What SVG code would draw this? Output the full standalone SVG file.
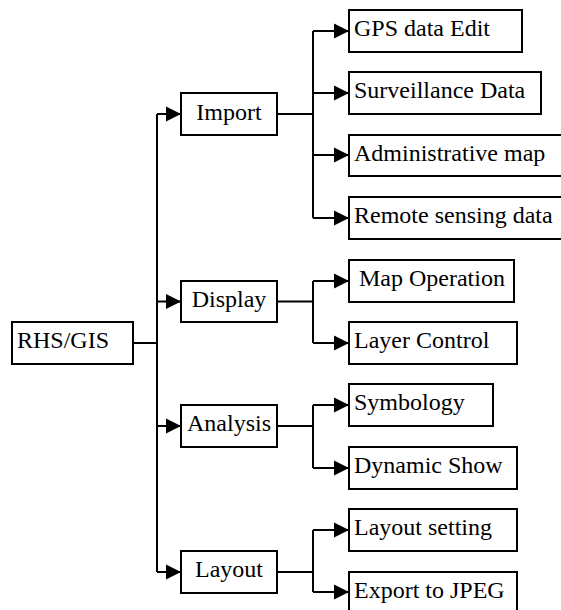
<svg xmlns="http://www.w3.org/2000/svg" width="561" height="610" viewBox="0 0 561 610">
<style>
.box{fill:#fff;stroke:#000;stroke-width:2}
text{font-family:'Liberation Serif','Times New Roman','DejaVu Serif',serif;font-size:24px;fill:#000}
.c{text-anchor:middle}
.ln{fill:none;stroke:#000;stroke-width:2}
</style>
<defs>
<marker id="ah" markerUnits="userSpaceOnUse" markerWidth="16" markerHeight="16" refX="15" refY="8" orient="auto">
<path d="M0,0.5 L15,8 L0,15.5 z" fill="#000"/>
</marker>
</defs>
<g id="connectors">
<path class="ln" d="M133,343 H157"/>
<path class="ln" d="M157,114 V572"/>
<path class="ln" d="M157,114 H181" marker-end="url(#ah)"/>
<path class="ln" d="M157,301.5 H181" marker-end="url(#ah)"/>
<path class="ln" d="M157,426 H181" marker-end="url(#ah)"/>
<path class="ln" d="M157,572 H181" marker-end="url(#ah)"/>
<path class="ln" d="M277,114 H313"/>
<path class="ln" d="M313,31 V218"/>
<path class="ln" d="M313,31 H349" marker-end="url(#ah)"/>
<path class="ln" d="M313,93 H349" marker-end="url(#ah)"/>
<path class="ln" d="M313,155 H349" marker-end="url(#ah)"/>
<path class="ln" d="M313,218 H349" marker-end="url(#ah)"/>
<path class="ln" d="M277,301.5 H313"/>
<path class="ln" d="M313,281 V343"/>
<path class="ln" d="M313,281 H349" marker-end="url(#ah)"/>
<path class="ln" d="M313,343 H349" marker-end="url(#ah)"/>
<path class="ln" d="M277,426 H313"/>
<path class="ln" d="M313,405 V468"/>
<path class="ln" d="M313,405 H349" marker-end="url(#ah)"/>
<path class="ln" d="M313,468 H349" marker-end="url(#ah)"/>
<path class="ln" d="M277,572 H313"/>
<path class="ln" d="M313,530 V592"/>
<path class="ln" d="M313,530 H349" marker-end="url(#ah)"/>
<path class="ln" d="M313,592 H349" marker-end="url(#ah)"/>
</g>
<g id="rhsgis"><rect class="box" x="12" y="322" width="121" height="42"/><text font-family="Liberation Serif, serif" x="17" y="348">RHS/GIS</text></g>
<g id="import"><rect class="box" x="181" y="93" width="96" height="42"/><text class="c" font-family="Liberation Serif, serif" x="229" y="119.5">Import</text></g>
<g id="display"><rect class="box" x="181" y="281" width="96" height="41"/><text class="c" font-family="Liberation Serif, serif" x="229" y="307">Display</text></g>
<g id="analysis"><rect class="box" x="181" y="405" width="96" height="42"/><text class="c" font-family="Liberation Serif, serif" x="229" y="431">Analysis</text></g>
<g id="layout"><rect class="box" x="181" y="551" width="96" height="42"/><text class="c" font-family="Liberation Serif, serif" x="229" y="577">Layout</text></g>
<g id="gps"><rect class="box" x="349" y="10" width="173" height="42"/><text font-family="Liberation Serif, serif" x="354" y="36">GPS data Edit</text></g>
<g id="surveillance"><rect class="box" x="349" y="72" width="192" height="42"/><text font-family="Liberation Serif, serif" x="354" y="98">Surveillance Data</text></g>
<g id="administrative"><rect class="box" x="349" y="135" width="214" height="41"/><text font-family="Liberation Serif, serif" x="354" y="161">Administrative map</text></g>
<g id="remote"><rect class="box" x="349" y="197" width="214" height="42"/><text font-family="Liberation Serif, serif" x="354" y="223">Remote sensing data</text></g>
<g id="mapop"><rect class="box" x="349" y="260" width="165" height="42"/><text font-family="Liberation Serif, serif" x="359" y="286">Map Operation</text></g>
<g id="layer"><rect class="box" x="349" y="322" width="168" height="42"/><text font-family="Liberation Serif, serif" x="354" y="348">Layer Control</text></g>
<g id="symbology"><rect class="box" x="349" y="384" width="144" height="42"/><text font-family="Liberation Serif, serif" x="354" y="410">Symbology</text></g>
<g id="dynamic"><rect class="box" x="349" y="447" width="168" height="42"/><text font-family="Liberation Serif, serif" x="354" y="473">Dynamic Show</text></g>
<g id="layoutsetting"><rect class="box" x="349" y="509" width="168" height="42"/><text font-family="Liberation Serif, serif" x="354" y="535">Layout setting</text></g>
<g id="export"><rect class="box" x="349" y="572" width="168" height="42"/><text font-family="Liberation Serif, serif" x="354" y="598">Export to JPEG</text></g>
</svg>
